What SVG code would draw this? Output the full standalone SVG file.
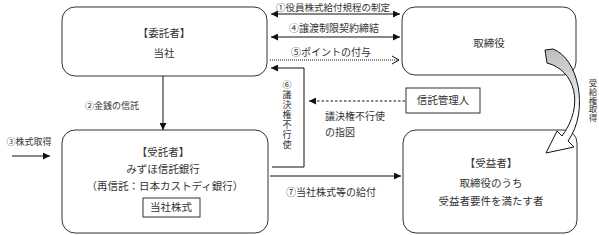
<svg xmlns="http://www.w3.org/2000/svg" width="599" height="235" viewBox="0 0 599 235">
<style>
text{font-family:"Noto Sans CJK JP","Noto Sans",sans-serif;fill:#333;font-size:10px}
.m{text-anchor:middle}
.b{font-size:10.5px}
.s{font-size:9px}
.v{writing-mode:vertical-rl}
.box{fill:#fff;stroke:#333;stroke-width:1}
.ln{fill:none;stroke:#111;stroke-width:1}
</style>
<defs>
<marker id="ah" markerUnits="userSpaceOnUse" markerWidth="8" markerHeight="7" refX="7" refY="3.5" orient="auto-start-reverse">
<path d="M0,0 L7,3.5 L0,7 z" fill="#111"/>
</marker>
<marker id="oh" markerUnits="userSpaceOnUse" markerWidth="9" markerHeight="10" refX="8" refY="5" orient="auto">
<path d="M1,1 L8,5 L1,9" fill="none" stroke="#111" stroke-width="1"/>
</marker>
<linearGradient id="g" x1="0" y1="0" x2="0" y2="1">
<stop offset="0" stop-color="#bdbdbd"/>
<stop offset="0.45" stop-color="#e6e6e6"/>
<stop offset="0.6" stop-color="#fff"/>
</linearGradient>
</defs>

<g id="itakusha">
<rect class="box" x="62" y="7" width="205" height="69" rx="13"/>
<text class="m b" x="164" y="36.5">【委託者】</text>
<text class="m b" x="164" y="56.5">当社</text>
</g>

<g id="torishimariyaku">
<rect class="box" x="402" y="7" width="174" height="68" rx="13"/>
<text class="m b" x="489" y="46.5">取締役</text>
</g>

<g id="shintakukanrinin">
<rect class="box" x="406" y="88" width="74" height="25"/>
<text class="m b" x="443" y="104">信託管理人</text>
</g>

<g id="jutakusha">
<rect class="box" x="62" y="130" width="206" height="103" rx="13"/>
<text class="m b" x="163" y="155.5">【受託者】</text>
<text class="m b" x="163" y="172.5">みずほ信託銀行</text>
<text class="m b" x="165" y="189.5">（再信託：日本カストディ銀行）</text>
<rect class="box" x="143" y="198" width="57" height="19"/>
<text class="m b" x="171" y="211">当社株式</text>
</g>

<g id="jueki">
<rect class="box" x="403" y="130" width="174" height="103" rx="13"/>
<text class="m b" x="491" y="166.5">【受益者】</text>
<text class="m b" x="491" y="186.5">取締役のうち</text>
<text class="m b" x="491" y="204.5">受益者要件を満たす者</text>
</g>

<g id="connectors">
<path class="ln" d="M271,14 H400" marker-start="url(#ah)" marker-end="url(#ah)"/>
<path class="ln" d="M271,37 H400" marker-start="url(#ah)" marker-end="url(#ah)"/>
<path class="ln" d="M270,60 H399" stroke-dasharray="1,1" marker-end="url(#oh)"/>
<path class="ln" d="M272,167 H304 V68 H271" marker-end="url(#ah)"/>
<path class="ln" d="M405,101 H309" stroke-dasharray="2.5,2" marker-end="url(#ah)"/>
<path class="ln" d="M163,76 V130" marker-end="url(#ah)"/>
<path class="ln" d="M12,156 H50" marker-end="url(#ah)"/>
<path class="ln" d="M270,176 H401" marker-end="url(#ah)"/>
<path d="M547,63 L545,50 L553,49 C578,58 590,110 568,141 L574,147 L546,153 L557,131 L562,136 C585,105 575,70 547,63 Z" fill="url(#g)" stroke="#111" stroke-width="1" stroke-linejoin="round"/>

<text class="m" x="333" y="10.5" font-size="9.5" style="font-size:9.5px">①役員株式給付規程の制定</text>
<text class="m" x="334" y="32">④譲渡制限契約締結</text>
<text class="m" x="331" y="55.5">⑤ポイントの付与</text>
<text class="m" x="331" y="196">⑦当社株式等の給付</text>
<text x="325" y="120">議決権不行使</text>
<text x="325" y="136">の指図</text>
<text class="m s" x="112" y="108.5">②金銭の信託</text>
<text class="m s" x="29" y="145">③株式取得</text>
<text class="v s" x="287" y="80" style="letter-spacing:1px">⑥議決権不行使</text>
<text class="v" x="593" y="78.5" style="font-size:8.5px;letter-spacing:0.3px">受給権取得</text>
</g>
</svg>
